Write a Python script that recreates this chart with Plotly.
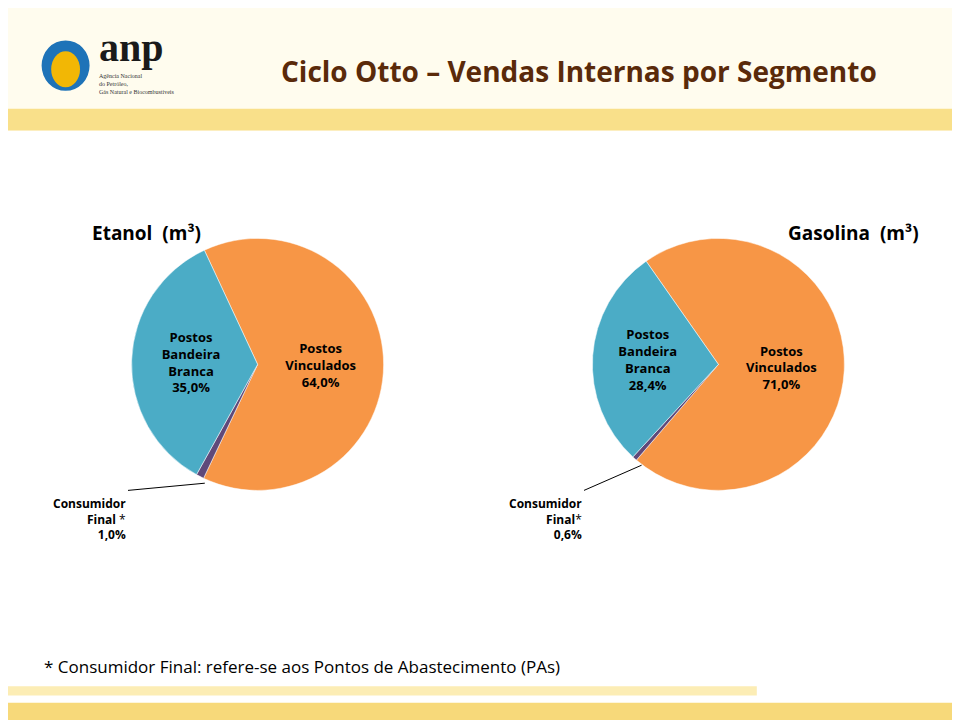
import plotly.graph_objects as go

segmentos = ["Postos<br>Vinculados", "Consumidor<br>Final", "Postos<br>Bandeira<br>Branca"]
etanol = [64.0, 1.0, 35.0]
gasolina = [71.0, 0.6, 28.4]
cores = ["#f79646", "#5f497a", "#4bacc6"]

def rotulos(vals):
    return ["<b>%s<br>%s%%</b>" % (s, f"{v:.1f}".replace(".", ",")) if i != 1 else ""
            for i, (s, v) in enumerate(zip(segmentos, vals))]

fig = go.Figure()
fig.add_trace(go.Pie(labels=segmentos, values=etanol, sort=False, direction="clockwise",
                     rotation=335, marker=dict(colors=cores, line=dict(color="#ffffff", width=0.5)),
                     text=rotulos(etanol), textinfo="text", textposition="inside",
                     insidetextorientation="horizontal",
                     textfont=dict(family="Open Sans", size=13, color="#000000"),
                     domain=dict(x=[0.04, 0.48], y=[0.33, 0.68]), showlegend=False))
fig.add_trace(go.Pie(labels=segmentos, values=gasolina, sort=False, direction="clockwise",
                     rotation=325, marker=dict(colors=cores, line=dict(color="#ffffff", width=0.5)),
                     text=rotulos(gasolina), textinfo="text", textposition="inside",
                     insidetextorientation="horizontal",
                     textfont=dict(family="Open Sans", size=13, color="#000000"),
                     domain=dict(x=[0.52, 0.96], y=[0.33, 0.68]), showlegend=False))

shapes = [
    dict(type="rect", xref="paper", yref="paper", x0=0, x1=1, y0=0.83, y1=1,
         fillcolor="#fffcee", line_width=0, layer="below"),
    dict(type="rect", xref="paper", yref="paper", x0=0, x1=1, y0=0.83, y1=0.86,
         fillcolor="#f9e08a", line_width=0, layer="below"),
    dict(type="rect", xref="paper", yref="paper", x0=0, x1=1, y0=0.0, y1=0.035,
         fillcolor="#f7d97a", line_width=0, layer="below"),
    dict(type="rect", xref="paper", yref="paper", x0=0, x1=0.78, y0=0.045, y1=0.058,
         fillcolor="#fcedb5", line_width=0, layer="below"),
    # logo placeholder
    dict(type="circle", xref="paper", yref="paper", x0=0.035, x1=0.085, y0=0.885, y1=0.955,
         fillcolor="#1e73b8", line_width=0),
    dict(type="circle", xref="paper", yref="paper", x0=0.045, x1=0.075, y0=0.89, y1=0.94,
         fillcolor="#f2b705", line_width=0),
    dict(type="line", xref="paper", yref="paper", x0=0.125, x1=0.205, y0=0.33, y1=0.34,
         line=dict(color="#000", width=1)),
    dict(type="line", xref="paper", yref="paper", x0=0.6, x1=0.66, y0=0.33, y1=0.365,
         line=dict(color="#000", width=1)),
]

ann = [
    dict(x=0.093, y=0.945, text="<b>anp</b>", font=dict(family="Liberation Serif", size=40, color="#1a1a1a")),
    dict(x=0.093, y=0.895, text="Agência Nacional<br>do Petróleo,<br>Gás Natural e Biocombustíveis",
         font=dict(family="Liberation Serif", size=6, color="#333"), align="left"),
    dict(x=0.595, y=0.912, text="<b>Ciclo Otto – Vendas Internas por Segmento</b>", xanchor="center",
         font=dict(family="Open Sans", size=28, color="#5a2a0a")),
    dict(x=0.085, y=0.688, text="<b>Etanol</b>  <b>(m³)</b>", font=dict(family="Open Sans", size=19, color="#000")),
    dict(x=0.81, y=0.688, text="<b>Gasolina</b>  <b>(m³)</b>", font=dict(family="Open Sans", size=19, color="#000")),
    dict(x=0.125, y=0.29, xanchor="right", align="right",
         text="<b>Consumidor<br>Final</b> *<br><b>1,0%</b>", font=dict(family="Open Sans", size=12, color="#000")),
    dict(x=0.6, y=0.29, xanchor="right", align="right",
         text="<b>Consumidor<br>Final</b>*<br><b>0,6%</b>", font=dict(family="Open Sans", size=12, color="#000")),
    dict(x=0.035, y=0.085, text="* Consumidor Final: refere-se aos Pontos de Abastecimento (PAs)",
         font=dict(family="Open Sans", size=17, color="#000")),
]
for a in ann:
    a.setdefault("xanchor", "left")
    a.update(xref="paper", yref="paper", showarrow=False, yanchor="middle")

fig.update_layout(width=960, height=720, margin=dict(l=0, r=0, t=0, b=0),
                  paper_bgcolor="#ffffff", separators=",.", shapes=shapes, annotations=ann)
fig.write_html("out.html")
